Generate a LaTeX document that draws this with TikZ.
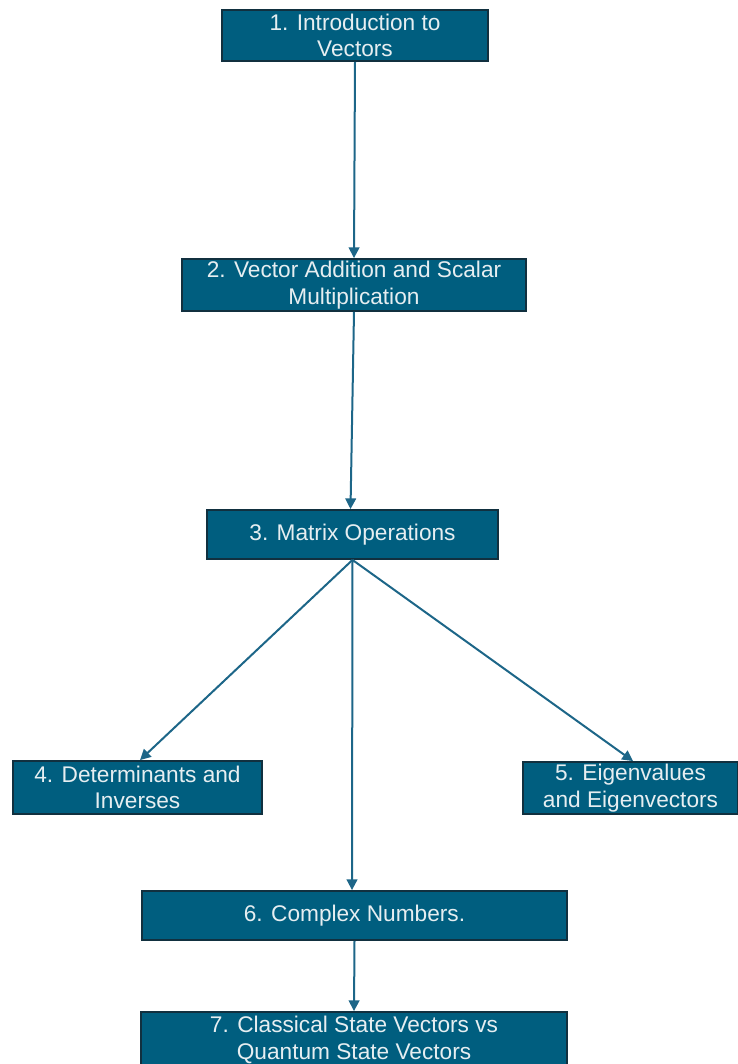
\documentclass[tikz,border=0pt]{standalone}
\usepackage{fontspec}
\setmainfont{Liberation Sans}
\usetikzlibrary{arrows.meta}
\definecolor{boxfill}{HTML}{005E7F}
\definecolor{boxline}{HTML}{11303F}
\definecolor{arrowcol}{HTML}{1D6688}
\definecolor{boxtext}{HTML}{E6EEF1}
\tikzset{
    topic/.style={draw=boxline, line width=1.4pt, fill=boxfill, text=boxtext,
        align=center, inner sep=0pt, font=\fontsize{17}{20}\selectfont},
    link/.style={draw=arrowcol, line width=1.5pt, -{Triangle[length=8pt,width=8pt]}}
}
\begin{document}
\begin{tikzpicture}[x=0.75pt, y=-0.75pt]
    \useasboundingbox (0,0) rectangle (738,1064);

    % Topic boxes (pixel coordinates of the reference)
    \node[topic, minimum width=266*0.75pt, minimum height=51*0.75pt] (intro) at (355,35.5)
        {1. Introduction to\\Vectors};
    \node[topic, minimum width=344*0.75pt, minimum height=52*0.75pt] (addition) at (354,285)
        {2. Vector Addition and Scalar\\Multiplication};
    \node[topic, minimum width=291*0.75pt, minimum height=49*0.75pt] (matrix) at (352.5,534.5)
        {3. Matrix Operations};
    \node[topic, minimum width=249*0.75pt, minimum height=53*0.75pt] (determinants) at (137.5,787.5)
        {4. Determinants and\\Inverses};
    \node[topic, minimum width=215*0.75pt, minimum height=52*0.75pt] (eigen) at (630.5,788)
        {5. Eigenvalues\\and Eigenvectors};
    \node[topic, minimum width=425*0.75pt, minimum height=49*0.75pt] (complex) at (354.5,915.5)
        {6. Complex Numbers.};
    \node[topic, minimum width=426*0.75pt, minimum height=56*0.75pt] (classical) at (354,1040)
        {7. Classical State Vectors vs\\Quantum State Vectors};

    % Connectors
    \draw[link] (intro.south) -- (addition.north);
    \draw[link] (addition.south) -- ([xshift=-2*0.75pt]matrix.north);
    \draw[link] (matrix.south) -- ([xshift=2.5*0.75pt]determinants.north);
    \draw[link] (matrix.south) -- ([xshift=2.5*0.75pt]eigen.north);
    \draw[link] (matrix.south) -- ([xshift=-2.5*0.75pt]complex.north);
    \draw[link] (complex.south) -- (classical.north);
\end{tikzpicture}
\end{document}
